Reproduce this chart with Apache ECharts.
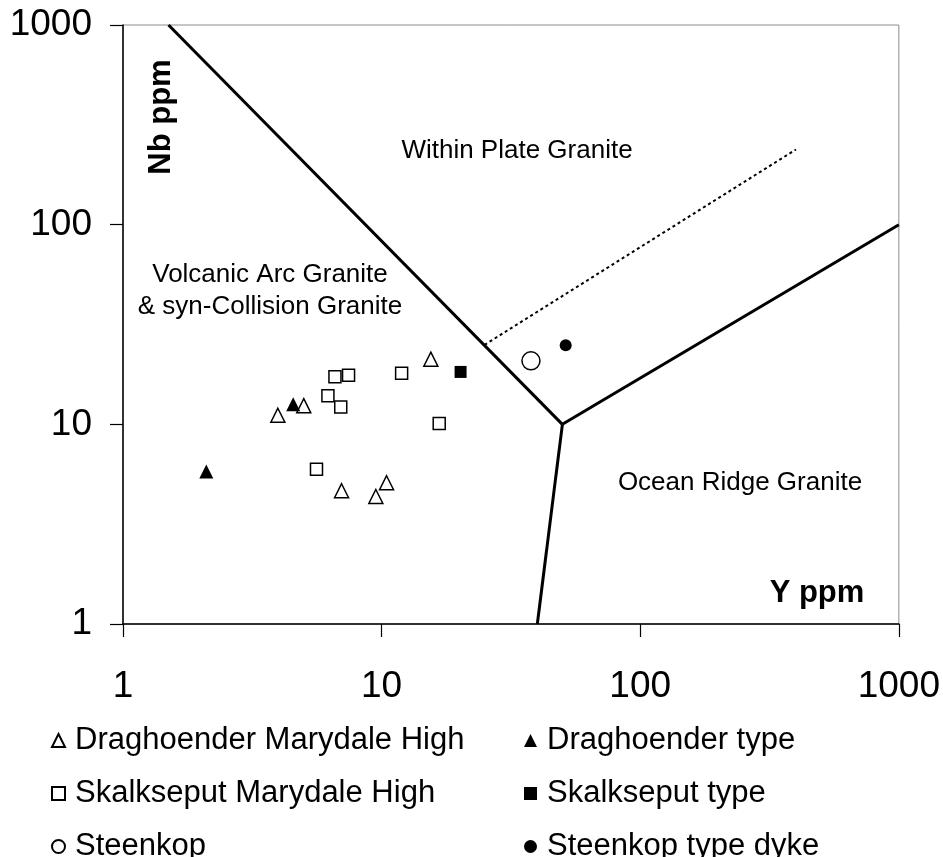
<!DOCTYPE html>
<html>
<head>
<meta charset="utf-8">
<title>Nb–Y discrimination diagram</title>
<script src="https://cdn.jsdelivr.net/npm/echarts@6/dist/echarts.min.js"></script>
<style>
  html, body { margin: 0; padding: 0; background: #fff; }
  #chart { width: 943px; height: 857px; }
</style>
</head>
<body>
<div id="chart"></div>
<script>
// Sample groups: [Y ppm, Nb ppm]
const draghoenderMarydale = [[3.97, 11.1], [5.0, 12.4], [15.5, 21.2], [7.0, 4.65], [9.5, 4.35], [10.45, 5.1]];
const draghoenderType = [[2.1, 5.8], [4.55, 12.6]];
const skalkseputMarydale = [[6.6, 17.3], [7.45, 17.6], [6.2, 13.9], [6.95, 12.2], [11.95, 18.0], [16.7, 10.1], [5.6, 5.95]];
const skalkseputType = [[20.2, 18.3]];
const steenkop = [[37.8, 20.8]];
const steenkopDyke = [[51.5, 24.9]];

// Field boundaries (Pearce et al. Nb–Y diagram)
const boundaryVAG = [[1.5, 1000], [50, 10]];
const boundaryWPG = [[50, 10], [1000, 100]];
const boundaryORG = [[50, 10], [40, 1]];
const boundaryORGdashed = [[25, 25], [400, 238]];

// Axis ticks
const axisTicks = [1, 10, 100, 1000];

const FONT = "'Liberation Sans', Arial, 'DejaVu Sans', sans-serif";

const chart = echarts.init(document.getElementById('chart'), null, { renderer: 'canvas' });

const openStyle = { color: '#ffffff', borderColor: '#000000', borderWidth: 1.5, opacity: 1 };
const solidStyle = { color: '#000000', borderColor: '#000000', borderWidth: 0, opacity: 1 };

function boundary(data, dashed) {
  return {
    type: 'line',
    data: data,
    showSymbol: false,
    symbol: 'none',
    silent: true,
    clip: true,
    z: 1,
    lineStyle: dashed
      ? { color: '#000', width: 2, type: [3, 3] }
      : { color: '#000', width: 3 }
  };
}

function points(name, data, symbol, size, style) {
  return {
    name: name,
    type: 'scatter',
    data: data,
    symbol: symbol,
    symbolSize: size,
    itemStyle: style,
    z: 3
  };
}

const axisCommon = {
  type: 'log',
  logBase: 10,
  min: 1,
  max: 1000,
  splitLine: { show: false },
  minorTick: { show: false },
  axisLine: { show: true, lineStyle: { color: '#000', width: 1.5 } },
  axisTick: { show: true, inside: false, length: 13, lineStyle: { color: '#000', width: 1.2 } },
  axisLabel: {
    color: '#000',
    fontSize: 37,
    fontFamily: FONT,
    formatter: function (v) { return axisTicks.indexOf(v) >= 0 ? String(v) : ''; }
  }
};

const legendText = { color: '#000', fontSize: 31, fontFamily: FONT, lineHeight: 26, padding: [0, 0, 0, 5] };

const legendCommon = {
  orient: 'vertical', top: 725, height: 200, padding: 0, itemGap: 22,
  itemWidth: 13, itemHeight: 13, textStyle: legendText, selectedMode: false
};

chart.setOption({
  animation: false,
  backgroundColor: '#ffffff',
  grid: {
    left: 123, right: 43, top: 25, bottom: 233,
    show: true, borderColor: '#8c8c8c', borderWidth: 1, backgroundColor: 'transparent'
  },
  xAxis: Object.assign({}, axisCommon, {
    axisLabel: Object.assign({}, axisCommon.axisLabel, { margin: 44 })
  }),
  yAxis: Object.assign({}, axisCommon, {
    axisLabel: Object.assign({}, axisCommon.axisLabel, { margin: 31 })
  }),
  legend: [
    Object.assign({}, legendCommon, {
      data: ['Draghoender Marydale High', 'Skalkseput Marydale High', 'Steenkop'],
      left: 51
    }),
    Object.assign({}, legendCommon, {
      data: ['Draghoender type', 'Skalkseput type', 'Steenkop type dyke'],
      left: 524
    })
  ],
  graphic: [
    { type: 'text', x: 517, y: 151, style: { text: 'Within Plate Granite', font: '26px ' + FONT, fill: '#000', align: 'center', verticalAlign: 'middle' } },
    { type: 'text', x: 270, y: 275, style: { text: 'Volcanic Arc Granite', font: '26px ' + FONT, fill: '#000', align: 'center', verticalAlign: 'middle' } },
    { type: 'text', x: 270, y: 307, style: { text: '& syn-Collision Granite', font: '26px ' + FONT, fill: '#000', align: 'center', verticalAlign: 'middle' } },
    { type: 'text', x: 740, y: 483, style: { text: 'Ocean Ridge Granite', font: '26px ' + FONT, fill: '#000', align: 'center', verticalAlign: 'middle' } },
    { type: 'text', x: 817, y: 593, style: { text: 'Y ppm', font: 'bold 31px ' + FONT, fill: '#000', align: 'center', verticalAlign: 'middle' } },
    { type: 'text', x: 161, y: 117, rotation: Math.PI / 2, style: { text: 'Nb ppm', font: 'bold 31px ' + FONT, fill: '#000', align: 'center', verticalAlign: 'middle' } }
  ],
  series: [
    boundary(boundaryVAG, false),
    boundary(boundaryWPG, false),
    boundary(boundaryORG, false),
    boundary(boundaryORGdashed, true),
    points('Draghoender Marydale High', draghoenderMarydale, 'triangle', 14, openStyle),
    points('Draghoender type', draghoenderType, 'triangle', 14, solidStyle),
    points('Skalkseput Marydale High', skalkseputMarydale, 'rect', 12, openStyle),
    points('Skalkseput type', skalkseputType, 'rect', 12, solidStyle),
    points('Steenkop', steenkop, 'circle', 18, openStyle),
    points('Steenkop type dyke', steenkopDyke, 'circle', 12, solidStyle)
  ]
});
</script>
</body>
</html>
